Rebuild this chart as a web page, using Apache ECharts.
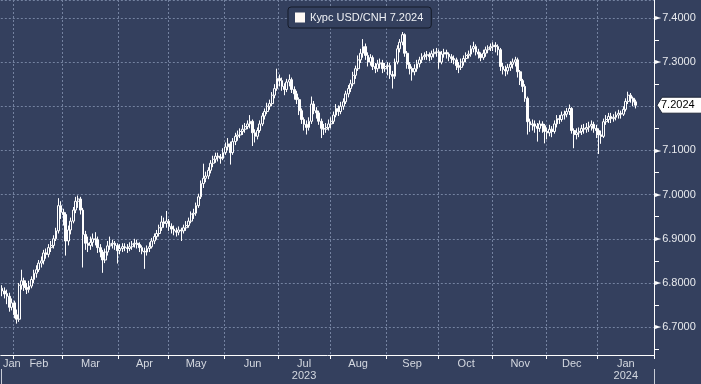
<!DOCTYPE html>
<html>
<head>
<meta charset="utf-8">
<script src="https://cdn.jsdelivr.net/npm/echarts@6/dist/echarts.min.js"></script>
<style>
html,body{margin:0;padding:0;background:#34405e;}
#chart{width:701px;height:384px;}
</style>
</head>
<body>
<div id="chart"></div>
<script>
// ---- data: daily candles [open, close, low, high], one array per month ----
const seriesName = 'Курс USD/CNH 7.2024';
const lastValue = 7.2024;
const monthNames = ['Jan','Feb','Mar','Apr','May','Jun','Jul','Aug','Sep','Oct','Nov','Dec'];
const yearLabels = {2023: '2023', 2024: '2024'};

const jan23 = [
[6.788,6.782,6.770,6.795],[6.782,6.775,6.765,6.790],[6.776,6.770,6.752,6.785],[6.770,6.745,6.735,6.778],[6.745,6.755,6.738,6.765]];
const feb23 = [
[6.755,6.728,6.720,6.760],[6.728,6.718,6.708,6.740],[6.718,6.795,6.712,6.800],[6.795,6.805,6.785,6.830],[6.805,6.790,6.782,6.812],
[6.790,6.785,6.775,6.800],[6.785,6.793,6.778,6.805],[6.793,6.808,6.788,6.815],[6.808,6.822,6.800,6.830],[6.822,6.830,6.812,6.840],
[6.830,6.845,6.825,6.852],[6.845,6.850,6.835,6.860],[6.850,6.868,6.842,6.875],[6.868,6.865,6.855,6.878],[6.865,6.880,6.858,6.888],
[6.880,6.885,6.870,6.895],[6.885,6.900,6.878,6.908],[6.900,6.918,6.895,6.925],[6.918,6.975,6.912,6.992],[6.975,6.960,6.945,6.985]];
const mar23 = [
[6.960,6.955,6.930,6.968],[6.955,6.895,6.862,6.960],[6.895,6.920,6.885,6.930],[6.920,6.940,6.910,6.948],[6.940,6.965,6.935,6.972],
[6.965,6.985,6.958,6.995],[6.985,6.990,6.970,6.998],[6.990,6.965,6.955,6.995],[6.965,6.910,6.835,6.970],[6.910,6.890,6.875,6.918],
[6.890,6.885,6.870,6.905],[6.885,6.892,6.875,6.905],[6.892,6.900,6.882,6.912],[6.900,6.898,6.885,6.915],[6.898,6.880,6.868,6.905],
[6.880,6.870,6.858,6.888],[6.870,6.852,6.823,6.875],[6.852,6.870,6.845,6.878],[6.870,6.884,6.862,6.895],[6.884,6.888,6.875,6.905],
[6.888,6.890,6.878,6.898],[6.890,6.885,6.875,6.895],[6.885,6.873,6.844,6.890]];
const apr23 = [
[6.873,6.878,6.865,6.888],[6.878,6.882,6.870,6.890],[6.882,6.880,6.872,6.890],[6.880,6.878,6.868,6.888],[6.878,6.882,6.872,6.892],
[6.882,6.888,6.875,6.895],[6.888,6.890,6.880,6.900],[6.890,6.887,6.878,6.898],[6.887,6.880,6.870,6.892],[6.880,6.872,6.865,6.885],
[6.872,6.870,6.832,6.880],[6.870,6.878,6.862,6.885],[6.878,6.882,6.870,6.892],[6.882,6.895,6.878,6.902],[6.895,6.905,6.888,6.912],
[6.905,6.912,6.898,6.920],[6.912,6.925,6.905,6.932],[6.925,6.938,6.918,6.952],[6.938,6.935,6.925,6.948],[6.935,6.940,6.925,6.963]];
const may23 = [
[6.940,6.928,6.918,6.945],[6.928,6.922,6.912,6.935],[6.922,6.918,6.908,6.930],[6.918,6.915,6.905,6.925],[6.915,6.920,6.908,6.928],
[6.920,6.918,6.895,6.925],[6.918,6.925,6.912,6.932],[6.925,6.930,6.918,6.940],[6.930,6.940,6.925,6.948],[6.940,6.956,6.935,6.962],
[6.956,6.958,6.945,6.968],[6.958,6.975,6.952,6.982],[6.975,6.995,6.970,7.002],[6.995,7.025,6.990,7.032],[7.025,7.037,7.015,7.070],
[7.037,7.042,7.028,7.052],[7.042,7.055,7.035,7.062],[7.055,7.071,7.048,7.078],[7.071,7.080,7.062,7.088],[7.080,7.087,7.072,7.095],
[7.087,7.085,7.075,7.095],[7.085,7.082,7.070,7.092],[7.082,7.095,7.078,7.105]];
const jun23 = [
[7.095,7.108,7.090,7.118],[7.108,7.115,7.100,7.128],[7.115,7.095,7.068,7.120],[7.095,7.120,7.090,7.128],[7.120,7.132,7.112,7.140],
[7.132,7.135,7.122,7.145],[7.135,7.143,7.128,7.150],[7.143,7.148,7.135,7.158],[7.148,7.154,7.140,7.162],[7.154,7.160,7.148,7.168],
[7.160,7.166,7.150,7.180],[7.166,7.140,7.110,7.170],[7.140,7.132,7.118,7.148],[7.132,7.145,7.125,7.152],[7.145,7.160,7.140,7.168],
[7.160,7.178,7.155,7.185],[7.178,7.188,7.170,7.195],[7.188,7.200,7.182,7.208],[7.200,7.206,7.192,7.215],[7.206,7.225,7.200,7.232],
[7.225,7.240,7.218,7.250],[7.240,7.263,7.235,7.285]];
const jul23 = [
[7.263,7.258,7.245,7.272],[7.258,7.245,7.235,7.265],[7.245,7.238,7.225,7.252],[7.238,7.255,7.232,7.262],[7.255,7.260,7.245,7.272],
[7.260,7.238,7.230,7.265],[7.238,7.228,7.215,7.245],[7.228,7.215,7.205,7.235],[7.215,7.190,7.180,7.220],[7.190,7.170,7.160,7.195],
[7.170,7.159,7.145,7.175],[7.159,7.152,7.136,7.168],[7.152,7.166,7.145,7.175],[7.166,7.205,7.160,7.222],[7.205,7.190,7.182,7.212],
[7.190,7.185,7.172,7.198],[7.185,7.166,7.158,7.190],[7.166,7.150,7.128,7.172],[7.150,7.148,7.135,7.160],[7.148,7.152,7.140,7.162],
[7.152,7.160,7.145,7.170]];
const aug23 = [
[7.160,7.166,7.150,7.175],[7.166,7.180,7.160,7.188],[7.180,7.195,7.175,7.205],[7.195,7.188,7.178,7.202],[7.188,7.200,7.182,7.210],
[7.200,7.210,7.192,7.218],[7.210,7.228,7.205,7.235],[7.228,7.240,7.220,7.248],[7.240,7.251,7.232,7.260],[7.251,7.270,7.245,7.278],
[7.270,7.285,7.262,7.292],[7.285,7.305,7.280,7.315],[7.305,7.320,7.298,7.330],[7.320,7.335,7.310,7.352],[7.335,7.315,7.305,7.342],
[7.315,7.300,7.290,7.322],[7.300,7.310,7.292,7.318],[7.310,7.290,7.282,7.315],[7.290,7.285,7.275,7.298],[7.285,7.296,7.278,7.305],
[7.296,7.298,7.285,7.308],[7.298,7.285,7.275,7.305],[7.285,7.290,7.278,7.298]];
const sep23 = [
[7.290,7.292,7.270,7.300],[7.292,7.272,7.262,7.298],[7.272,7.268,7.240,7.280],[7.268,7.300,7.262,7.308],[7.300,7.330,7.295,7.338],
[7.330,7.345,7.322,7.352],[7.345,7.362,7.338,7.368],[7.362,7.320,7.312,7.365],[7.320,7.295,7.285,7.325],[7.295,7.285,7.272,7.300],
[7.285,7.278,7.258,7.290],[7.278,7.285,7.270,7.295],[7.285,7.296,7.278,7.305],[7.296,7.305,7.288,7.312],[7.305,7.312,7.298,7.320],
[7.312,7.315,7.305,7.322],[7.315,7.317,7.305,7.325],[7.317,7.312,7.302,7.322],[7.312,7.319,7.305,7.326],[7.319,7.322,7.310,7.330],
[7.322,7.323,7.312,7.332]];
const oct23 = [
[7.323,7.300,7.285,7.328],[7.300,7.318,7.295,7.325],[7.318,7.322,7.310,7.330],[7.322,7.318,7.308,7.328],[7.318,7.312,7.302,7.322],
[7.312,7.308,7.298,7.318],[7.308,7.305,7.295,7.315],[7.305,7.292,7.282,7.310],[7.292,7.288,7.275,7.300],[7.288,7.300,7.282,7.308],
[7.300,7.308,7.292,7.315],[7.308,7.315,7.300,7.322],[7.315,7.318,7.308,7.326],[7.318,7.330,7.312,7.338],[7.330,7.335,7.322,7.346],
[7.335,7.323,7.315,7.340],[7.323,7.318,7.308,7.330],[7.318,7.310,7.302,7.322],[7.310,7.320,7.305,7.328],[7.320,7.328,7.312,7.335],
[7.328,7.332,7.320,7.338],[7.332,7.335,7.325,7.342]];
const nov23 = [
[7.335,7.338,7.325,7.345],[7.338,7.335,7.322,7.345],[7.335,7.328,7.315,7.340],[7.328,7.290,7.280,7.332],[7.290,7.283,7.272,7.298],
[7.283,7.280,7.268,7.292],[7.280,7.288,7.272,7.296],[7.288,7.295,7.280,7.302],[7.295,7.300,7.285,7.308],[7.300,7.305,7.290,7.312],
[7.305,7.278,7.265,7.310],[7.278,7.258,7.248,7.282],[7.258,7.245,7.232,7.262],[7.245,7.218,7.210,7.250],[7.218,7.165,7.136,7.222],
[7.165,7.158,7.142,7.172],[7.158,7.160,7.145,7.170],[7.160,7.155,7.140,7.168],[7.155,7.150,7.120,7.162],[7.150,7.160,7.142,7.168],
[7.160,7.156,7.140,7.166],[7.156,7.143,7.116,7.160]];
const dec23 = [
[7.143,7.140,7.125,7.152],[7.140,7.148,7.132,7.158],[7.148,7.143,7.130,7.155],[7.143,7.160,7.138,7.168],[7.160,7.172,7.152,7.180],
[7.172,7.170,7.160,7.180],[7.170,7.180,7.165,7.188],[7.180,7.182,7.170,7.190],[7.182,7.188,7.175,7.196],[7.188,7.195,7.180,7.204],
[7.195,7.145,7.138,7.198],[7.145,7.136,7.105,7.150],[7.136,7.140,7.125,7.150],[7.140,7.143,7.130,7.152],[7.143,7.150,7.135,7.158],
[7.150,7.148,7.138,7.160],[7.148,7.152,7.140,7.162],[7.152,7.155,7.142,7.165],[7.155,7.159,7.145,7.168],[7.159,7.150,7.140,7.165],
[7.150,7.145,7.128,7.158]];
const jan24 = [
[7.145,7.135,7.092,7.150],[7.135,7.132,7.115,7.145],[7.132,7.165,7.128,7.172],[7.165,7.170,7.158,7.180],[7.170,7.177,7.162,7.185],
[7.177,7.172,7.162,7.185],[7.172,7.175,7.165,7.182],[7.175,7.180,7.168,7.188],[7.180,7.184,7.172,7.192],[7.184,7.182,7.172,7.190],
[7.182,7.193,7.178,7.200],[7.193,7.211,7.188,7.218],[7.211,7.225,7.205,7.233],[7.225,7.218,7.208,7.230],[7.218,7.210,7.200,7.222],
[7.210,7.2024,7.195,7.215]];

// ---- build categories: trading weekdays 2023-01-25 .. 2024-01-31 ----
const dates = [];
for (let t = Date.UTC(2023,0,25); t <= Date.UTC(2024,0,31); t += 86400000) {
  const d = new Date(t);
  const wd = d.getUTCDay();
  if (wd !== 0 && wd !== 6) dates.push(d.toISOString().slice(0,10));
}
const ohlc = [].concat(jan23,feb23,mar23,apr23,may23,jun23,jul23,aug23,sep23,oct23,nov23,dec23,jan24);

// month ranges in category index space
const monthKey = dates.map(s => s.slice(0,7));
const isMonthStart = dates.map((s,i) => i > 0 && monthKey[i] !== monthKey[i-1]);
const ranges = {};
monthKey.forEach((k,i) => { if (!ranges[k]) ranges[k] = [i,i]; else ranges[k][1] = i; });
const labelIdx = {};
Object.keys(ranges).forEach((k, n) => {
  const r = ranges[k];
  const idx = n === 0 ? r[1] : Math.ceil((r[0] + r[1]) / 2);
  labelIdx[idx] = k;
});
const yearIdx = {};
yearIdx[Math.ceil((ranges['2023-07'][0] + ranges['2023-07'][1]) / 2)] = yearLabels[2023];
yearIdx[Math.ceil((ranges['2024-01'][0] + ranges['2024-01'][1]) / 2)] = yearLabels[2024];
const yearStart = dates.findIndex(s => s.slice(0,4) === '2024');

const BG = '#34405e';
const GRID = '#7482a0';
const yMin = 6.637, yMax = 7.4405;
const chart = echarts.init(document.getElementById('chart'), null, {renderer: 'canvas'});
chart.setOption({
  animation: false,
  backgroundColor: BG,
  grid: {left: 0, right: 47, top: -2, bottom: 29},
  legend: {
    left: 288, top: 7,
    padding: [5, 8, 5, 7],
    backgroundColor: BG,
    borderColor: '#141a28', borderWidth: 1, borderRadius: 3,
    itemWidth: 10, itemHeight: 10, itemGap: 5,
    textStyle: {color: '#eef0f4', fontSize: 11, fontFamily: 'Liberation Sans'},
    data: [{name: seriesName, icon: 'rect', itemStyle: {color: '#fffaf5', borderWidth: 0}}]
  },
  xAxis: [{
    type: 'category', data: dates, boundaryGap: true,
    axisLine: {show: true, lineStyle: {color: '#ffffff', width: 1}},
    axisTick: {show: true, length: 4, interval: (i) => isMonthStart[i], lineStyle: {color: '#ffffff'}},
    splitLine: {show: true, interval: (i) => isMonthStart[i], lineStyle: {color: GRID, type: [2, 2], width: 1}},
    axisLabel: {
      interval: (i) => labelIdx[i] !== undefined,
      formatter: (v, i) => monthNames[parseInt(v.slice(5,7),10) - 1],
      color: '#d4d8e0', fontSize: 11, fontFamily: 'Liberation Sans', margin: 3
    }
  }, {
    type: 'category', data: dates, boundaryGap: true, position: 'bottom', offset: 14,
    axisLine: {show: false},
    axisTick: {show: true, length: 16, interval: (i) => i === yearStart, lineStyle: {color: '#c8ccd6'}},
    splitLine: {show: false},
    axisLabel: {
      interval: (i) => yearIdx[i] !== undefined,
      formatter: (v) => v.slice(0,4),
      color: '#d4d8e0', fontSize: 11, fontFamily: 'Liberation Sans', margin: 1
    }
  }],
  yAxis: {
    type: 'value', position: 'right',
    min: yMin, max: yMax, splitNumber: 8,
    axisLine: {show: true, lineStyle: {color: '#ffffff', width: 1}},
    axisTick: {show: false},
    minorTick: {show: true, splitNumber: 2, length: 5, lineStyle: {color: '#ffffff', width: 1}},
    splitLine: {show: true, lineStyle: {color: GRID, type: [2, 2], width: 1}},
    axisLabel: {
      showMinLabel: false, showMaxLabel: false, margin: 1,
      formatter: (v) => Math.abs(v - lastValue) < 0.01 ? '' : '{t|►}{v|' + v.toFixed(4) + '}',
      rich: {
        t: {color: '#ffffff', fontSize: 8, fontFamily: 'DejaVu Sans', padding: [0, 1, 0, 0]},
        v: {color: '#e8eaee', fontSize: 11, fontFamily: 'Liberation Sans'}
      }
    }
  },
  series: [{
    name: seriesName,
    type: 'candlestick',
    data: ohlc,
    barWidth: '95%',
    itemStyle: {color: BG, color0: '#ffffff', borderColor: '#ffffff', borderColor0: '#ffffff', borderWidth: 1}
  }]
});

// last-value tag on the price axis, placed through the chart's own scales
const tagY = chart.convertToPixel({yAxisIndex: 0}, lastValue);
const xLast = chart.convertToPixel({xAxisIndex: 0}, dates.length - 1);
const band = xLast - chart.convertToPixel({xAxisIndex: 0}, dates.length - 2);
const axisX = xLast + band / 2;
chart.setOption({
  graphic: [{
    type: 'polygon', z: 100, silent: true,
    shape: {points: [[axisX + 3, tagY], [axisX + 8, tagY - 8], [axisX + 50, tagY - 8], [axisX + 50, tagY + 8], [axisX + 8, tagY + 8]]},
    style: {fill: '#ffffff', stroke: '#20283a', lineWidth: 1}
  }, {
    type: 'text', z: 101, silent: true,
    x: axisX + 7, y: tagY,
    style: {text: lastValue.toFixed(4), fill: '#000000', font: '11px "Liberation Sans"', verticalAlign: 'middle', textVerticalAlign: 'middle', align: 'left'}
  }]
});
</script>
</body>
</html>
